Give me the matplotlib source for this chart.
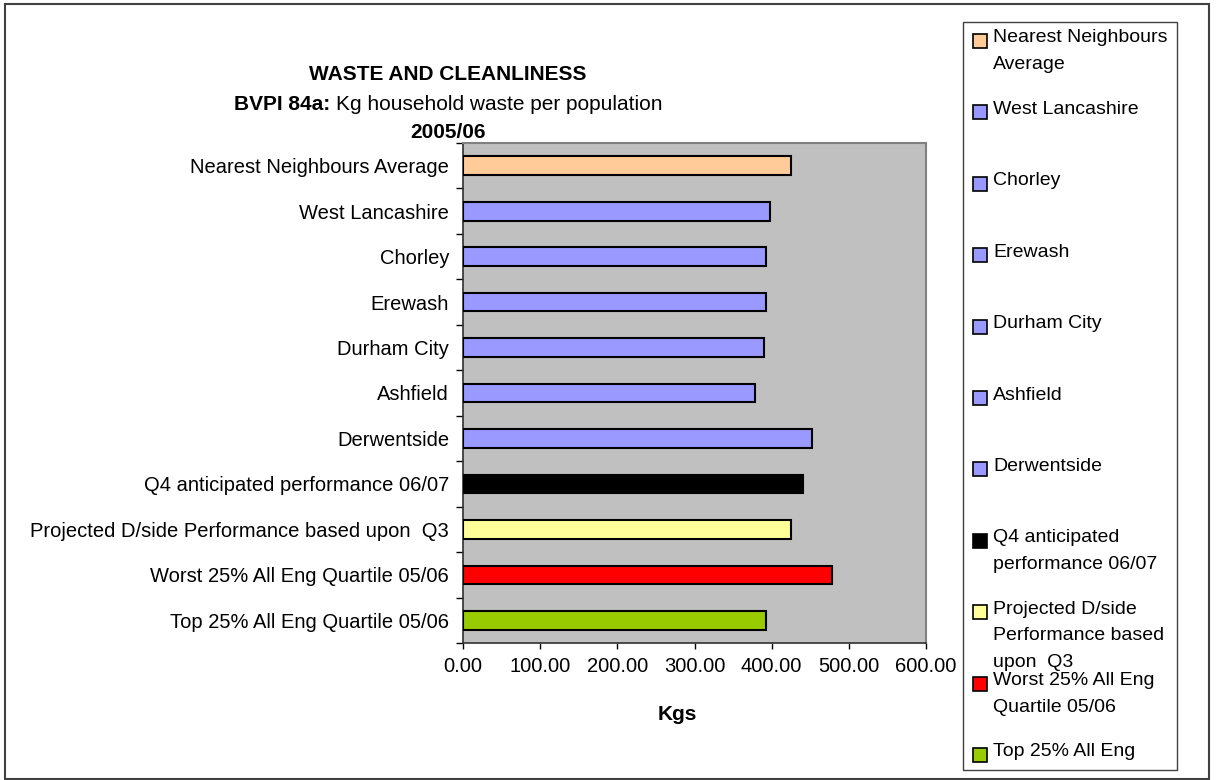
import textwrap
import matplotlib
matplotlib.use("Agg")
import matplotlib.pyplot as plt
from matplotlib.patches import Rectangle

plt.rcParams['font.family'] = ['Liberation Sans', 'DejaVu Sans']

# categories, top to bottom as drawn
categories = [
    "Nearest Neighbours Average",
    "West Lancashire",
    "Chorley",
    "Erewash",
    "Durham City",
    "Ashfield",
    "Derwentside",
    "Q4 anticipated performance 06/07",
    "Projected D/side Performance based upon  Q3",
    "Worst 25% All Eng Quartile 05/06",
    "Top 25% All Eng Quartile 05/06",
]
kgs = [424.6, 397.8, 393.0, 393.0, 390.5, 378.4, 451.8, 440.2, 424.6, 478.6, 393.0]
colours = ["#FFCC99", "#9999FF", "#9999FF", "#9999FF", "#9999FF", "#9999FF",
           "#9999FF", "#000000", "#FFFF99", "#FF0000", "#99CC00"]
x_ticks = [0, 100, 200, 300, 400, 500, 600]

W, H = 1218, 780
fig = plt.figure(figsize=(W / 100, H / 100), dpi=100)


def px(x, y):
    # pixel position (from top left) -> figure fraction
    return x / W, 1 - y / H


# outer chart border
fig.patches.append(Rectangle(px(5, 779), 1204 / W, 775 / H, transform=fig.transFigure,
                             fill=False, edgecolor="#404040", linewidth=1.5))

l, b = px(463, 643)
r, t = px(926, 143)
ax = fig.add_axes([l, b, r - l, t - b])
ax.set_facecolor("#C0C0C0")

n = len(categories)
ypos = [n - 1 - i for i in range(n)]
ax.barh(ypos, kgs, height=0.41, color=colours, edgecolor="black", linewidth=1.5, zorder=3)

ax.set_xlim(0, 600)
ax.set_ylim(-0.5, n - 0.5)
ax.set_xticks(x_ticks)
ax.set_xticklabels(["%.2f" % v for v in x_ticks], fontsize=14.5)
ax.tick_params(axis="x", direction="out", length=4, width=1, pad=6)

# category labels on minor ticks, tick marks on the boundaries
ax.set_yticks([i - 0.5 for i in range(n + 1)])
ax.set_yticklabels([])
ax.set_yticks(ypos, minor=True)
ax.set_yticklabels(categories, minor=True, fontsize=14.5)
ax.tick_params(axis="y", which="major", direction="out", length=5, width=1)
ax.tick_params(axis="y", which="minor", length=0, pad=10)

for side in ("left", "bottom"):
    ax.spines[side].set_color("#303030")
    ax.spines[side].set_linewidth(1.2)
for side in ("top", "right"):
    ax.spines[side].set_color("#808080")
    ax.spines[side].set_linewidth(1.5)

fig.text(*px(677, 715), "Kgs", ha="center", va="center", fontsize=15, fontweight="bold")

# titles
fig.text(*px(448, 75), "WASTE AND CLEANLINESS", ha="center", va="center",
         fontsize=15, fontweight="bold")
renderer = fig.canvas.get_renderer()
t_bold = fig.text(0, 0, "BVPI 84a: ", fontsize=15, fontweight="bold", va="center")
t_norm = fig.text(0, 0, "Kg household waste per population", fontsize=15, va="center")
wb = t_bold.get_window_extent(renderer).width
wn = t_norm.get_window_extent(renderer).width
x0 = 448 - (wb + wn) / 2
t_bold.set_position(px(x0, 105))
t_norm.set_position(px(x0 + wb, 105))
fig.text(*px(448, 132), "2005/06", ha="center", va="center", fontsize=15,
         fontweight="bold")

# legend box, entries evenly spaced; lines past the bottom edge are dropped
box_top, box_bottom = 22, 770
fig.patches.append(Rectangle(px(963, box_bottom), 214 / W, (box_bottom - box_top) / H,
                             transform=fig.transFigure, facecolor="white",
                             edgecolor="#404040", linewidth=1))
line_h = 26.5
for i, (lab, col) in enumerate(zip(categories, colours)):
    yc = 38 + i * 71.4
    sq = Rectangle(px(973, yc + 10), 14 / W, 14 / H, transform=fig.transFigure,
                   facecolor=col, edgecolor="black", linewidth=1.2)
    fig.patches.append(sq)
    for j, line in enumerate(textwrap.wrap(lab, 18, drop_whitespace=True)):
        y = yc + j * line_h
        if y + 10 > box_bottom:
            break
        fig.text(*px(993, y), line, ha="left", va="center", fontsize=14)

fig.savefig("out.png", dpi=100)
